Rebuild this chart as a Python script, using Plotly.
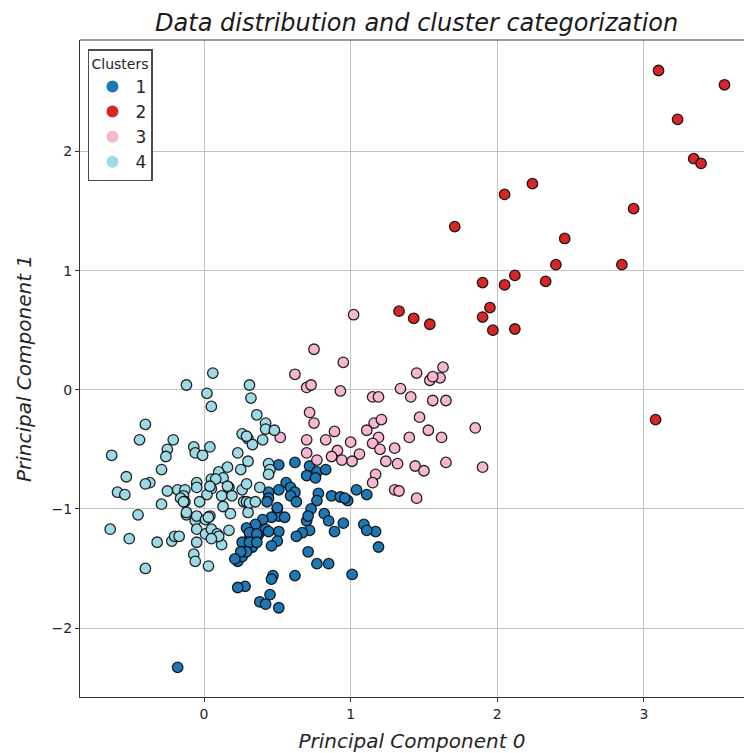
import plotly.graph_objects as go

# Principal-component coordinates of each sample, grouped by cluster label
cluster1_x = [0.51, 0.62, 0.72, 0.77, 0.83, 0.70, 0.76, 0.56, 0.51, 0.59, 0.62, 0.59, 0.63, 0.44, 0.44,
              0.78, 0.77, 0.87, 0.93, 0.98, 1.04, 1.11, 0.73, 0.82, 0.50, 0.51, 0.55, 0.46, 0.40, 0.35,
              0.29, 0.42, 0.51, 0.70, 0.85, 0.95, 0.89, 0.72, 0.67, 0.63, 0.37, 0.50, 0.46, 0.31, 0.26,
              0.33, 0.26, 0.23, 0.26, 0.71, 0.77, 0.85, 1.09, 1.17, 1.11, 1.19, 1.01, 0.62, 0.47, 0.46,
              0.28, 0.23, 0.45, 0.38, 0.42, 0.51, -0.18, 0.43, 0.50, 0.31, 0.36, 0.44, 0.31, 0.36, 0.29,
              0.25, 0.21, 0.71, 0.96]
cluster1_y = [-0.63, -0.61, -0.64, -0.69, -0.67, -0.72, -0.74, -0.78, -0.84, -0.82, -0.86, -0.89, -0.94, -0.86, -0.91,
              -0.87, -0.93, -0.89, -0.90, -0.93, -0.84, -0.88, -1.00, -1.04, -1.00, -1.06, -1.07, -1.07, -1.09, -1.13,
              -1.16, -1.17, -1.19, -1.10, -1.10, -1.12, -1.19, -1.18, -1.20, -1.23, -1.22, -1.27, -1.31, -1.25, -1.28,
              -1.32, -1.36, -1.44, -1.40, -1.36, -1.46, -1.46, -1.13, -1.19, -1.18, -1.32, -1.55, -1.56, -1.56, -1.59,
              -1.65, -1.66, -1.72, -1.78, -1.80, -1.83, -2.33, -0.94, -0.99, -1.20, -1.21, -1.19, -1.28, -1.28, -1.36,
              -1.36, -1.42, -1.06, -0.91]

cluster2_x = [3.10, 3.55, 3.23, 3.34, 3.39, 2.24, 2.05, 1.71, 2.46, 2.93, 2.40, 2.85, 2.12, 2.33, 1.90,
              2.05, 1.95, 1.90, 1.97, 2.12, 1.33, 1.43, 1.54, 3.08]
cluster2_y = [2.68, 2.56, 2.27, 1.94, 1.90, 1.73, 1.64, 1.37, 1.27, 1.52, 1.05, 1.05, 0.96, 0.91, 0.90,
              0.88, 0.69, 0.61, 0.50, 0.51, 0.66, 0.60, 0.55, -0.25]

cluster3_x = [1.02, 0.75, 0.95, 0.62, 0.70, 0.73, 0.93, 1.45, 1.63, 1.61, 1.54, 1.56, 1.34, 1.15, 1.19,
              1.41, 1.56, 1.65, 0.72, 0.75, 1.47, 1.16, 1.21, 1.11, 1.53, 1.85, 0.89, 0.83, 0.70, 1.19,
              1.40, 1.62, 1.00, 1.15, 1.20, 1.30, 0.52, 0.70, 0.91, 0.87, 1.06, 0.94, 1.01, 0.77, 1.24,
              1.32, 1.44, 1.50, 1.65, 1.90, 1.17, 1.15, 1.30, 1.33, 1.45]
cluster3_y = [0.63, 0.34, 0.23, 0.13, 0.02, 0.04, -0.01, 0.14, 0.19, 0.10, 0.08, 0.11, 0.01, -0.06, -0.06,
              -0.06, -0.09, -0.09, -0.19, -0.28, -0.23, -0.28, -0.25, -0.34, -0.34, -0.32, -0.35, -0.42, -0.42, -0.40,
              -0.40, -0.40, -0.44, -0.45, -0.50, -0.49, -0.40, -0.53, -0.51, -0.56, -0.54, -0.59, -0.60, -0.59, -0.60,
              -0.62, -0.64, -0.68, -0.61, -0.65, -0.71, -0.78, -0.84, -0.85, -0.91]

cluster4_x = [-0.12, 0.06, 0.02, 0.05, 0.31, 0.32, 0.36, -0.40, -0.44, -0.63, -0.21, -0.25, -0.26, -0.29, -0.53,
              -0.37, -0.40, -0.59, -0.54, -0.07, -0.06, -0.01, 0.04, 0.23, 0.26, 0.30, 0.33, 0.30, 0.25, 0.16,
              0.10, 0.13, 0.05, -0.05, -0.05, 0.05, 0.17, 0.12, 0.19, 0.26, 0.29, 0.27, 0.29, 0.02, -0.25,
              -0.18, -0.13, -0.14, -0.16, -0.13, -0.29, -0.45, -0.64, -0.51, -0.32, -0.22, -0.20, -0.17, -0.40,
              -0.12, -0.06, -0.05, 0.01, 0.04, -0.05, 0.01, 0.05, 0.09, 0.12, -0.05, -0.07, -0.06, 0.03,
              0.13, 0.18, 0.17, 0.30, 0.42, 0.42, 0.48, 0.29, 0.40, 0.44, 0.45, 0.44, 0.08, 0.38, 0.03,
              -0.12, 0.10, 0.05, 0.31, 0.35, 0.16, 0.04, -0.14, -0.03]
cluster4_y = [0.04, 0.14, -0.03, -0.14, 0.04, -0.07, -0.21, -0.29, -0.42, -0.55, -0.42, -0.50, -0.56, -0.67, -0.73,
              -0.78, -0.79, -0.86, -0.88, -0.48, -0.53, -0.55, -0.48, -0.53, -0.37, -0.41, -0.46, -0.60, -0.67, -0.65,
              -0.69, -0.74, -0.75, -0.78, -0.82, -0.83, -0.82, -0.89, -0.89, -0.84, -0.79, -0.94, -0.94, -0.88, -0.85,
              -0.84, -0.84, -0.89, -0.91, -0.94, -0.96, -1.05, -1.17, -1.25, -1.28, -1.27, -1.23, -1.23, -1.50,
              -1.05, -1.10, -1.06, -1.09, -1.06, -1.17, -1.21, -1.17, -1.21, -1.30, -1.28, -1.38, -1.44, -1.48,
              -0.98, -1.04, -1.18, -1.03, -0.28, -0.33, -0.34, -0.39, -0.42, -0.62, -0.67, -0.71, -0.75, -0.82, -1.07,
              -1.03, -1.23, -1.25, -0.95, -0.94, -0.81, -0.81, -0.94, -0.94]

cluster_names = ["1", "2", "3", "4"]
cluster_colors = ["#1f77b4", "#d62728", "#f7b6d2", "#9edae5"]
cluster_xs = [cluster1_x, cluster2_x, cluster3_x, cluster4_x]
cluster_ys = [cluster1_y, cluster2_y, cluster3_y, cluster4_y]

x_ticks = [0, 1, 2, 3]
y_ticks = [-2, -1, 0, 1, 2]

FONT = "DejaVu Sans"
TEXT = "#262626"

fig = go.Figure()

# scatter markers, drawn in cluster order so later clusters sit on top
for name, color, xs, ys in zip(cluster_names, cluster_colors, cluster_xs, cluster_ys):
    fig.add_trace(go.Scatter(
        x=xs, y=ys, mode="markers", name=name, showlegend=False,
        marker=dict(size=10.5, color=color, line=dict(color="rgba(0,0,0,0.85)", width=1.3)),
    ))

# legend swatches: plain filled dots without outline
for name, color in zip(cluster_names, cluster_colors):
    fig.add_trace(go.Scatter(
        x=[None], y=[None], mode="markers", name=name, showlegend=True,
        marker=dict(size=9.5, color=color),
    ))

axis_common = dict(
    showgrid=True, gridcolor="#c4c4c4", gridwidth=1,
    zeroline=False, showline=True, linecolor="#333333", linewidth=1.2,
    ticks="outside", ticklen=4, tickwidth=1, tickcolor="#333333",
    tickfont=dict(family=FONT, size=14, color=TEXT),
)

fig.update_layout(
    width=744, height=753,
    margin=dict(l=80, r=0, t=40, b=56),
    paper_bgcolor="white", plot_bgcolor="white",
    title=dict(
        text="Data distribution and cluster categorization",
        font=dict(family=FONT, size=24, color="#1a1a1a", style="italic"),
        x=0.507, xref="paper", xanchor="center",
        y=1, yref="container", yanchor="top", pad=dict(t=14),
    ),
    xaxis=dict(
        **axis_common, range=[-0.846, 3.683], tickvals=x_ticks, mirror=False,
        title=dict(text="Principal Component 0", standoff=13,
                   font=dict(family=FONT, size=20, color=TEXT, style="italic")),
    ),
    yaxis=dict(
        **axis_common, range=[-2.579, 2.936], tickvals=y_ticks,
        title=dict(text="Principal Component 1", standoff=14,
                   font=dict(family=FONT, size=20, color=TEXT, style="italic")),
    ),
    legend=dict(
        title=dict(text="Clusters", font=dict(family=FONT, size=14, color=TEXT)),
        font=dict(family=FONT, size=17, color=TEXT),
        x=0.012, y=0.986, xanchor="left", yanchor="top",
        bgcolor="white", bordercolor="#4d4d4d", borderwidth=1.5,
        itemsizing="constant", itemwidth=36, tracegroupgap=0,
    ),
)

# top spine only (no right spine)
fig.add_shape(type="line", xref="paper", yref="paper", x0=0, x1=1, y0=1, y1=1,
              line=dict(color="#333333", width=1.2))

fig.write_html("out.html")
